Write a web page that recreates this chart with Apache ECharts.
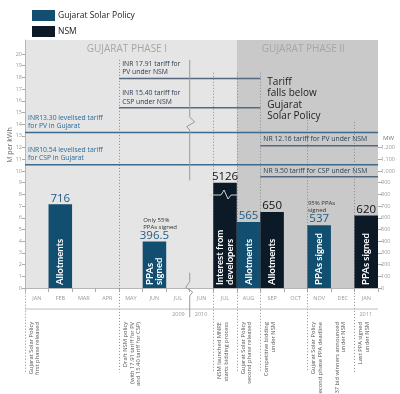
<!DOCTYPE html>
<html><head><meta charset="utf-8">
<script src="https://cdn.jsdelivr.net/npm/echarts@6/dist/echarts.min.js"></script>
<style>html,body{margin:0;padding:0;background:#fff}#c{width:400px;height:394px}</style>
</head><body><div id="c"></div>
<script>
// ---------- data ----------
const months = ['JAN','FEB','MAR','APR','MAY','JUN','JUL','JUN','JUL','AUG','SEP','OCT','NOV','DEC','JAN'];
const years = ['2009','2010','2011'];
const yearBoundaries = [7, 7, 14];
const gujarat = [null,716,null,null,null,396.5,null,null,null,565,null,null,537,null,null];
const nsm     = [null,null,null,null,null,null,null,null,5126,null,650,null,null,null,620];
const nsmDrawCap = 900; // bars above this are drawn with a break
const captions = ['','Allotments','','','','PPAs\nsigned','','','Interest from\ndevelopers','Allotments','Allotments','','PPAs signed','','PPAs signed'];
const noteIdx = [5, 12];
const noteTexts = ['Only 55%\nPPAs signed', '95% PPAs\nsigned'];
const leftTicks = [0,1,2,3,4,5,6,7,8,9,10,11,12,13,14,15,16,17,18,19,20];
const rightTicks = [0,100,200,300,400,500,600,700,800,900,1000,1100,1200];
const tariffLabels = ['INR13.30 levelised tariff\nfor PV in Gujarat','INR10.54 levelised tariff\nfor CSP in Gujarat','INR 17.91 tariff for\nPV under NSM','INR 15.40 tariff for\nCSP under NSM','NR 12.16 tariff for PV under NSM','NR 9.50 tariff for CSP under NSM'];
const tariffValues = [13.30, 10.54, 17.91, 15.40, 12.16, 9.50];
const tariffFrom = [0, 0, 4, 4, 10, 10];
const tariffTo = [15, 15, 10, 10, 15, 15];
const tariffScheme = ['guj','guj','nsm','nsm','nsm','nsm'];
const eventIdx = [0, 4, 8, 9, 10, 12, 13, 14];
const eventTexts = [
  'Gujarat Solar Policy\nfirst phase released',
  'Draft NSM policy\n(with 17.91 tariff for PV\nand 15.40 tariff for CSP)',
  'NSM launched MNRE\nstarts bidding process',
  'Gujarat Solar Policy\nsecond phase released',
  'Competitive bidding\nunder NSM',
  'Gujarat Solar Policy\nsecond phase PPA deadline',
  '37 bid winners announced\nunder NSM',
  'Last PPA signed\nunder NSM'
];
const phaseNames = ['GUJARAT PHASE I','GUJARAT PHASE II'];
const phaseStart = [0, 9];
const phaseEnd = [9, 15];
const calloutText = 'Tariff\nfalls below\nGujarat\nSolar Policy';

// ---------- styles ----------
const FONT = "'Open Sans', sans-serif";
const CAPFONT = "Lato, 'Open Sans', sans-serif";
const GUJ = '#124e6f', NSMC = '#0c1a27';
const phaseFill = ['#e5e5e5', '#c9c9c9'];
// upper end (in left-axis units) of each event's dotted line; null = no line
const eventLineTop = {0:-0.4, 4:19.5, 8:18.4, 9:18.4, 10:18.4, 12:14.6, 13:null, 14:14.2};

const drawn = months.map((_, i) => gujarat[i] != null ? gujarat[i] : (nsm[i] != null ? Math.min(nsm[i], nsmDrawCap) : null));
const nsmData = nsm.map(v => v == null ? null : (v > nsmDrawCap ? {value: nsmDrawCap, realValue: v} : v));

const chart = echarts.init(document.getElementById('c'));
chart.setOption({
  animation: false,
  backgroundColor: '#fff',
  textStyle: {fontFamily: FONT},
  legend: {
    data: ['Gujarat Solar Policy', 'NSM'], orient: 'vertical', left: 27, top: 5,
    itemWidth: 23, itemHeight: 11, itemGap: 5, icon: 'rect',
    textStyle: {fontSize: 8.5, color: '#222', fontFamily: FONT, padding: [0,0,0,-2]}
  },
  grid: {left: 25, right: 22, top: 40, bottom: 106, outerBoundsMode: 'none', containLabel: false},
  xAxis: [
    {type: 'category', data: months, boundaryGap: true,
     axisLine: {show: true, lineStyle: {color: '#b5b5b5', width: 1}},
     axisTick: {show: true, interval: 0, length: 4, lineStyle: {color: '#aaa'}},
     axisLabel: {interval: 0, fontSize: 5.5, color: '#999', margin: 7, fontFamily: FONT},
     splitLine: {show: false}},
    {type: 'value', min: 0, max: 15, show: false}
  ],
  yAxis: [
    {type: 'value', min: 0, max: 21.2, position: 'left',
     axisLine: {show: true, lineStyle: {color: '#b5b5b5'}},
     axisTick: {show: true, length: 3, customValues: leftTicks, lineStyle: {color: '#aaa'}},
     axisLabel: {customValues: leftTicks, fontSize: 5.5, color: '#999', margin: 3, fontFamily: FONT},
     splitLine: {show: false}},
    {type: 'value', min: 0, max: 2120, position: 'right',
     axisLine: {show: false},
     axisTick: {show: true, length: 4, customValues: rightTicks, lineStyle: {color: '#aaa'}},
     axisLabel: {customValues: rightTicks, fontSize: 5.5, color: '#999', margin: 3, fontFamily: FONT},
     splitLine: {show: false}}
  ],
  series: [
    {name: 'Gujarat Solar Policy', type: 'bar', xAxisIndex: 0, yAxisIndex: 1, data: gujarat,
     barWidth: '100%', barGap: '-100%', itemStyle: {color: GUJ},
     label: {show: true, position: 'top', distance: 0, fontSize: 11.5, color: '#1d5b82', fontFamily: FONT}},
    {name: 'NSM', type: 'bar', xAxisIndex: 0, yAxisIndex: 1, data: nsmData,
     barWidth: '100%', barGap: '-100%', itemStyle: {color: NSMC},
     label: {show: true, position: 'top', distance: 0, fontSize: 11.5, color: '#111', fontFamily: FONT,
       formatter: p => (p.data && p.data.realValue) ? String(p.data.realValue) : String(p.value)}},
    {name: 'captions', type: 'bar', xAxisIndex: 0, yAxisIndex: 1, data: drawn, silent: true, z: 3,
     barWidth: '100%', barGap: '-100%', itemStyle: {color: 'rgba(0,0,0,0)'},
     label: {show: true, position: 'insideBottom', rotate: 90, align: 'left', verticalAlign: 'middle',
       distance: 3, color: '#fff', fontWeight: 'bold', fontSize: 9.5, lineHeight: 9.5, fontFamily: CAPFONT,
       formatter: p => captions[p.dataIndex]}}
  ].concat(tariffValues.map((v, i) => ({
    type: 'line', xAxisIndex: 1, yAxisIndex: 0, silent: true, symbol: 'none', z: 2,
    data: [[tariffFrom[i], v], [tariffTo[i], v]],
    lineStyle: {color: tariffScheme[i] === 'guj' ? '#3d6b8e' : '#56687e', width: 1.5}
  })))
});

// ---------- decorations positioned through the chart's own scales ----------
const px = v => chart.convertToPixel({xAxisIndex: 1}, v);
const y0 = chart.convertToPixel({yAxisIndex: 0}, 0);
const u = y0 - chart.convertToPixel({yAxisIndex: 0}, 1);
const Y = v => y0 - v * u;
const G = [];
const txt = (x, y, text, st, extra) => G.push(Object.assign({type: 'text', x, y, silent: true, z: 10,
  style: Object.assign({text, fontFamily: FONT}, st)}, extra || {}));

// phase backgrounds + titles
phaseNames.forEach((n, i) => {
  G.push({type: 'rect', silent: true, z: -10,
    shape: {x: px(phaseStart[i]), y: Y(21.2), width: px(phaseEnd[i]) - px(phaseStart[i]), height: y0 - Y(21.2)},
    style: {fill: phaseFill[i]}});
  txt((px(phaseStart[i]) + px(phaseEnd[i])) / 2 - 4, Y(20.45), n,
    {fill: '#a6a6a6', fontSize: 10, align: 'center', verticalAlign: 'middle'});
});

// event dotted lines and texts
eventIdx.forEach((b, i) => {
  const X = Math.round(px(b)) + 0.5;
  const top = eventLineTop[b];
  if (top != null) G.push({type: 'line', silent: true, z: 1,
    shape: {x1: X, y1: Y(top), x2: X, y2: Y(-7.2)},
    style: {stroke: '#8a8a8a', lineWidth: 1, lineDash: [1, 2]}});
  txt(px(b) + 3, Y(-2.9), eventTexts[i],
    {fill: '#555', fontSize: 5.8, lineHeight: 6.5, align: 'right', verticalAlign: 'top'},
    {rotation: Math.PI / 2});
});

// year separator and labels
G.push({type: 'line', silent: true, z: 1, shape: {x1: px(0), y1: Y(-1.8), x2: px(15), y2: Y(-1.8)},
  style: {stroke: '#bdbdbd', lineWidth: 1}});
years.forEach((yl, i) => {
  const first = i === 0;
  txt(px(yearBoundaries[i]) + (first ? -5 : 5), Y(-2.3), yl,
    {fill: '#999', fontSize: 5.5, align: first ? 'right' : 'left', verticalAlign: 'middle'});
});

// axis break markers
const X7 = px(7);
G.push({type: 'polyline', silent: true, z: 6, shape: {points: [
  [X7, Y(19.5)], [X7, Y(14.6)], [X7 + 5, Y(14.2)], [X7 - 3, Y(13.8)], [X7, Y(13.5)], [X7, Y(9.2)]]},
  style: {stroke: '#9a9a9a', lineWidth: 1, fill: null}});
G.push({type: 'polyline', silent: true, z: 6, shape: {points: [
  [X7, Y(1.3)], [X7, Y(0.55)], [X7 - 4, Y(0.05)], [X7 + 3, Y(-0.35)], [X7, Y(-0.65)], [X7, Y(-2.5)]]},
  style: {stroke: '#9a9a9a', lineWidth: 1, fill: null}});
// break across the over-scale bar
nsm.forEach((v, i) => {
  if (v == null || v <= nsmDrawCap) return;
  const cx = px(i + 0.5), yb = Y(7.95);
  G.push({type: 'polyline', silent: true, z: 20, shape: {points: [
    [cx - 16, yb], [cx - 4, yb], [cx - 1, yb - 5], [cx + 3, yb + 4], [cx + 6, yb], [cx + 15, yb]]},
    style: {stroke: '#d0d0d0', lineWidth: 1, fill: null}});
});

// tariff labels
tariffValues.forEach((v, i) => {
  txt(px(tariffFrom[i]) + 3, Y(v) - 2, tariffLabels[i],
    {fill: tariffScheme[i] === 'guj' ? '#2b6a98' : '#2b3d52', fontSize: 6.8, lineHeight: 8.5,
     align: 'left', verticalAlign: 'bottom'});
});

// callout
txt(px(10) + 7, Y(18.1), calloutText, {fill: '#222', fontSize: 10, lineHeight: 11.5, align: 'left', verticalAlign: 'top'});

// notes above bars
noteIdx.forEach((idx, k) => {
  const h = drawn[idx] / 100;
  txt(px(idx) + 0.5, Y(h) - 11, noteTexts[k], {fill: '#333', fontSize: 6, lineHeight: 7, align: 'left', verticalAlign: 'bottom'});
});

// axis names
txt(px(15) + 5, Y(12.82), 'MW', {fill: '#777', fontSize: 6, align: 'left', verticalAlign: 'middle'});
txt(10, Y(12.22), 'M per kWh', {fill: '#666', fontSize: 7, align: 'center', verticalAlign: 'middle'}, {rotation: Math.PI / 2});

chart.setOption({graphic: G});
</script></body></html>
